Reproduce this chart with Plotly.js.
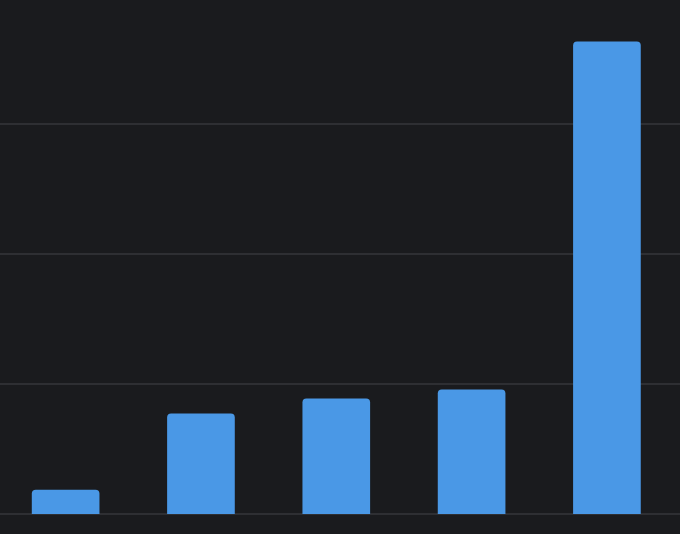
<!DOCTYPE html>
<html>
<head>
<meta charset="utf-8">
<script src="https://cdn.plot.ly/plotly-3.0.1.min.js"></script>
<style>
  html, body { margin: 0; padding: 0; background: #1a1b1e; }
  #chart { width: 680px; height: 534px; }
</style>
</head>
<body>
<div id="chart"></div>
<script>
var categories = ['A', 'B', 'C', 'D', 'E'];
var values = [1.86, 7.73, 8.88, 9.58, 36.35];
var gridTicks = [0, 10, 20, 30];

var bar_data = [{
  x: categories,
  y: values,
  type: 'bar',
  marker: { color: '#4a98e6', cornerradius: 4 },
  hoverinfo: 'none'
}];

var layout = {
  width: 680,
  height: 534,
  paper_bgcolor: '#1a1b1e',
  plot_bgcolor: '#1a1b1e',
  showlegend: false,
  bargap: 0.5,
  margin: { l: 0, r: 0, t: 0, b: 20, pad: 0 },
  xaxis: {
    range: [-0.485, 4.54],
    showticklabels: false,
    showgrid: false,
    zeroline: false,
    showline: false,
    ticks: ''
  },
  yaxis: {
    range: [0, 39.54],
    tickvals: gridTicks,
    showticklabels: false,
    showgrid: true,
    gridcolor: '#2e2f33',
    gridwidth: 2,
    zeroline: true,
    zerolinecolor: '#2e2f33',
    zerolinewidth: 2,
    showline: false,
    ticks: ''
  }
};

Plotly.newPlot('chart', bar_data, layout, { displayModeBar: false, staticPlot: true });
</script>
</body>
</html>
